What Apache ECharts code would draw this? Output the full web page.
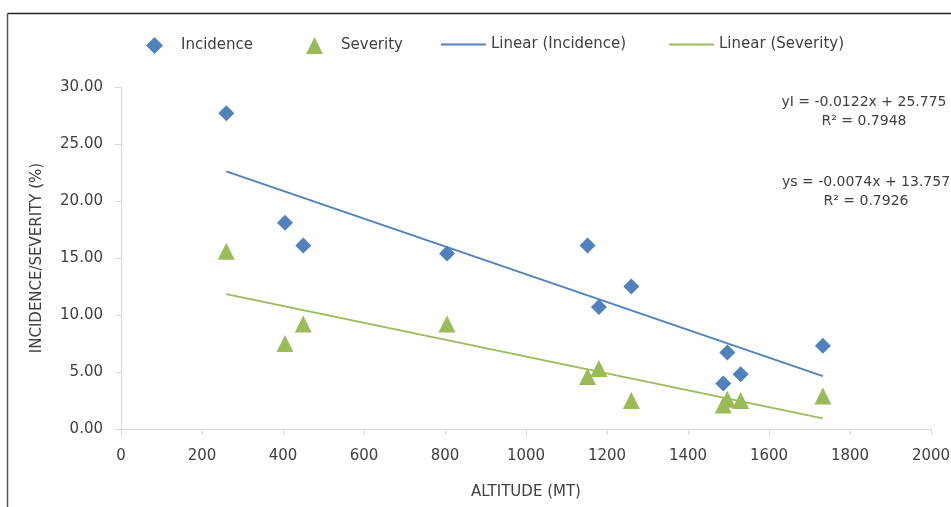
<!DOCTYPE html>
<html>
<head>
<meta charset="utf-8">
<script src="https://cdn.jsdelivr.net/npm/echarts@6/dist/echarts.min.js"></script>
<style>
html,body{margin:0;padding:0;background:#fff;}
#chart{width:951px;height:507px;}
</style>
</head>
<body>
<div id="chart"></div>
<script>
// ---- data ----
var altitude = [260, 405, 450, 805, 1152, 1180, 1260, 1487, 1497, 1530, 1733];
var incidence = [27.7, 18.1, 16.1, 15.4, 16.1, 10.7, 12.5, 4.0, 6.7, 4.8, 7.3];
var severity  = [15.6, 7.5, 9.2, 9.2, 4.6, 5.3, 2.5, 2.1, 2.6, 2.5, 2.9];
// trend line coefficients shown in the chart: [slope, intercept]
var trendIncidence = [-0.0122, 25.775];
var trendSeverity  = [-0.0074, 13.757];
var eqIncidence = ['yI = -0.0122x + 25.775', 'R\u00B2 = 0.7948'];
var eqSeverity  = ['ys = -0.0074x + 13.757', 'R\u00B2 = 0.7926'];
var yTicks = [0, 5, 10, 15, 20, 25, 30];
var xTicks = [0, 200, 400, 600, 800, 1000, 1200, 1400, 1600, 1800, 2000];
var seriesNames = ['Incidence', 'Severity', 'Linear (Incidence)', 'Linear (Severity)'];

var FONT = 'DejaVu Sans';
var TXT = '#404040';
var BLUE = '#4F81BD';
var GREEN = '#9BBB59';

function pairs(xs, ys){ return xs.map(function(x,i){ return [x, ys[i]]; }); }
function trend(coef){
  var xmin = Math.min.apply(null, altitude), xmax = Math.max.apply(null, altitude);
  return [[xmin, coef[0]*xmin + coef[1]], [xmax, coef[0]*xmax + coef[1]]];
}
function symbolLegend(left, name){
  return {
    left: left, top: 32, itemWidth: 17, itemHeight: 17,
    data: [name], selectedMode: false,
    textStyle: {fontFamily: FONT, fontSize: 15, color: TXT, padding: [0, 0, 0, 13]}
  };
}
function lineLegend(left, name){
  return {
    left: left, top: 32, itemWidth: 45, itemHeight: 17,
    data: [name], selectedMode: false,
    itemStyle: {opacity: 0},
    textStyle: {fontFamily: FONT, fontSize: 15, color: TXT}
  };
}

var chart = echarts.init(document.getElementById('chart'), null, {renderer: 'canvas'});
chart.setOption({
  animation: false,
  backgroundColor: '#fff',
  grid: {left: 121, right: 20, top: 87, bottom: 78, outerBoundsMode: 'none', containLabel: false},
  legend: [
    symbolLegend(141, seriesNames[0]),
    symbolLegend(301, seriesNames[1]),
    lineLegend(435, seriesNames[2]),
    lineLegend(663, seriesNames[3])
  ],
  xAxis: {
    type: 'value', min: xTicks[0], max: xTicks[xTicks.length-1], interval: 200,
    name: 'ALTITUDE (MT)', nameLocation: 'middle', nameGap: 56,
    nameTextStyle: {fontFamily: FONT, fontSize: 15, color: TXT},
    axisLine: {show: true, lineStyle: {color: '#D9D9D9', width: 1}},
    axisTick: {show: true, length: 6, lineStyle: {color: '#D9D9D9'}},
    axisLabel: {fontFamily: FONT, fontSize: 15, color: TXT, margin: 20,
      formatter: function(v){ return String(v); }},
    splitLine: {show: false}
  },
  yAxis: {
    type: 'value', min: yTicks[0], max: yTicks[yTicks.length-1], interval: 5,
    name: 'INCIDENCE/SEVERITY (%)', nameLocation: 'middle', nameGap: 76,
    nameTextStyle: {fontFamily: FONT, fontSize: 15, color: TXT},
    axisLine: {show: true, lineStyle: {color: '#D9D9D9', width: 1}},
    axisTick: {show: true, length: 6, lineStyle: {color: '#D9D9D9'}},
    axisLabel: {fontFamily: FONT, fontSize: 15, color: TXT, margin: 18,
      formatter: function(v){ return v.toFixed(2); }},
    splitLine: {show: false}
  },
  series: [
    {name: seriesNames[2], type: 'line', data: trend(trendIncidence), symbol: 'none',
     lineStyle: {color: BLUE, width: 1.8}, itemStyle: {color: BLUE}, z: 1},
    {name: seriesNames[3], type: 'line', data: trend(trendSeverity), symbol: 'none',
     lineStyle: {color: GREEN, width: 1.8}, itemStyle: {color: GREEN}, z: 1},
    {name: seriesNames[0], type: 'scatter', data: pairs(altitude, incidence),
     symbol: 'diamond', symbolSize: 16, itemStyle: {color: BLUE, opacity: 1}, z: 3},
    {name: seriesNames[1], type: 'scatter', data: pairs(altitude, severity),
     symbol: 'triangle', symbolSize: 17, itemStyle: {color: GREEN, opacity: 1}, z: 3}
  ],
  graphic: [
    {type: 'line', shape: {x1: 7.5, y1: 13.5, x2: 951, y2: 13.5}, style: {stroke: '#222', lineWidth: 1.5}, silent: true},
    {type: 'line', shape: {x1: 7.5, y1: 13.5, x2: 7.5, y2: 507}, style: {stroke: '#555', lineWidth: 1.5}, silent: true},
    {type: 'text', x: 864, y: 102, style: {text: eqIncidence[0], font: '14px "' + FONT + '"', fill: TXT, align: 'center', verticalAlign: 'middle'}},
    {type: 'text', x: 864, y: 121, style: {text: eqIncidence[1], font: '14px "' + FONT + '"', fill: TXT, align: 'center', verticalAlign: 'middle'}},
    {type: 'text', x: 866, y: 182, style: {text: eqSeverity[0], font: '14px "' + FONT + '"', fill: TXT, align: 'center', verticalAlign: 'middle'}},
    {type: 'text', x: 866, y: 201, style: {text: eqSeverity[1], font: '14px "' + FONT + '"', fill: TXT, align: 'center', verticalAlign: 'middle'}}
  ]
});
</script>
</body>
</html>
